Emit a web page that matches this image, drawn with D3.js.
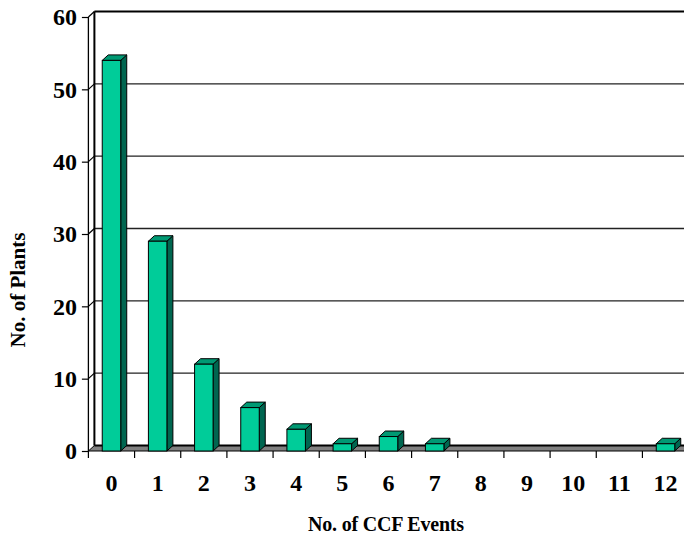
<!DOCTYPE html>
<html>
<head>
<meta charset="utf-8">
<script src="https://cdn.jsdelivr.net/npm/d3@7"></script>
<style>
  html, body { margin: 0; padding: 0; background: #fff; }
  svg { display: block; }
  text { font-family: "Liberation Serif", "Times New Roman", serif; font-weight: bold; fill: #000; }
</style>
</head>
<body>
<svg id="chart" width="684" height="538"></svg>
<script>
// Number of CCF events per plant (categories) and how many plants had each count
const events = ["0", "1", "2", "3", "4", "5", "6", "7", "8", "9", "10", "11", "12"];
const plants = [54, 29, 12, 6, 3, 1, 2, 1, 0, 0, 0, 0, 1];
const yTicks = [0, 10, 20, 30, 40, 50, 60];

const svg = d3.select("#chart");
const W = 684;

// Oblique 3-D projection: depth offset of walls, floor and columns
const DX = 6, DY = -5.5;

const x = d3.scaleBand().domain(events).range([88.4, 688.6]).padding(0);
const y = d3.scaleLinear().domain([0, 60]).range([451, 17]);

const x0 = x.range()[0];
const x1 = x.range()[1];

// Back wall gridlines
svg.append("g").selectAll("line.grid")
  .data(yTicks.filter(v => v > 0))
  .join("line")
  .attr("x1", x0 + DX).attr("x2", W)
  .attr("y1", d => y(d) + DY).attr("y2", d => y(d) + DY)
  .attr("stroke", d => d === 60 ? "#000" : "#222")
  .attr("stroke-width", d => d === 60 ? 2 : 1.3);

// Side wall diagonals at each tick
svg.append("g").selectAll("line.side")
  .data(yTicks.filter(v => v > 0))
  .join("line")
  .attr("x1", x0).attr("x2", x0 + DX)
  .attr("y1", d => y(d)).attr("y2", d => y(d) + DY)
  .attr("stroke", "#000").attr("stroke-width", 1.2);

// Back wall left edge
svg.append("line")
  .attr("x1", x0 + DX).attr("x2", x0 + DX)
  .attr("y1", y(60) + DY).attr("y2", y(0) + DY)
  .attr("stroke", "#000").attr("stroke-width", 2);

// Floor
svg.append("path")
  .attr("d", `M${x0},${y(0)} L${x1},${y(0)} L${x1 + DX},${y(0) + DY} L${x0 + DX},${y(0) + DY} Z`)
  .attr("fill", "#808080").attr("stroke", "#000").attr("stroke-width", 1);
svg.append("line")
  .attr("x1", x0 + DX).attr("x2", W)
  .attr("y1", y(0) + DY).attr("y2", y(0) + DY)
  .attr("stroke", "#000").attr("stroke-width", 2.2);

// Front value axis
const yAxis = svg.append("g")
  .attr("transform", `translate(${x0},0)`)
  .call(d3.axisLeft(y).tickValues(yTicks).tickSize(6.5).tickPadding(5));
yAxis.select(".domain").remove();
yAxis.selectAll(".tick line").attr("stroke", "#000").attr("stroke-width", 1.2);
yAxis.selectAll("text").style("font-size", "24px").attr("fill", "#000");
svg.append("line")
  .attr("x1", x0).attr("x2", x0)
  .attr("y1", y(60)).attr("y2", y(0))
  .attr("stroke", "#000").attr("stroke-width", 1.3);

// Columns
const barW = 18.5;
const bars = svg.append("g").selectAll("g.bar")
  .data(events.map((e, i) => ({ e, v: plants[i] })).filter(d => d.v > 0))
  .join("g");

bars.each(function(d) {
  const g = d3.select(this);
  const cx = x(d.e) + x.bandwidth() / 2;
  const L = cx - barW / 2, R = cx + barW / 2;
  const T = y(d.v), B = y(0);
  // right side
  g.append("path")
    .attr("d", `M${R},${B} L${R},${T} L${R + DX},${T + DY} L${R + DX},${B + DY} Z`)
    .attr("fill", "#006650").attr("stroke", "#000").attr("stroke-width", 1).attr("stroke-linejoin", "round");
  // top
  g.append("path")
    .attr("d", `M${L},${T} L${R},${T} L${R + DX},${T + DY} L${L + DX},${T + DY} Z`)
    .attr("fill", "#009973").attr("stroke", "#000").attr("stroke-width", 1).attr("stroke-linejoin", "round");
  // front
  g.append("rect")
    .attr("x", L).attr("y", T).attr("width", barW).attr("height", B - T)
    .attr("fill", "#00CC99").attr("stroke", "#000").attr("stroke-width", 1);
});

// Category ticks at band boundaries
const bounds = events.map(e => x(e)).concat([x1]);
svg.append("g").selectAll("line")
  .data(bounds)
  .join("line")
  .attr("x1", d => d).attr("x2", d => d)
  .attr("y1", y(0)).attr("y2", y(0) + 7)
  .attr("stroke", "#000").attr("stroke-width", 1.2);

// Category labels
svg.append("g").selectAll("text")
  .data(events)
  .join("text")
  .attr("x", d => x(d) + x.bandwidth() / 2)
  .attr("y", 491)
  .attr("text-anchor", "middle")
  .style("font-size", "24px")
  .text(d => d);

// Axis titles
svg.append("text")
  .attr("x", 386).attr("y", 531)
  .attr("text-anchor", "middle")
  .style("font-size", "20px")
  .style("letter-spacing", "-0.2px")
  .text("No. of CCF Events");

svg.append("text")
  .attr("transform", "translate(25,290) rotate(-90)")
  .attr("text-anchor", "middle")
  .style("font-size", "21px")
  .text("No. of Plants");
</script>
</body>
</html>
